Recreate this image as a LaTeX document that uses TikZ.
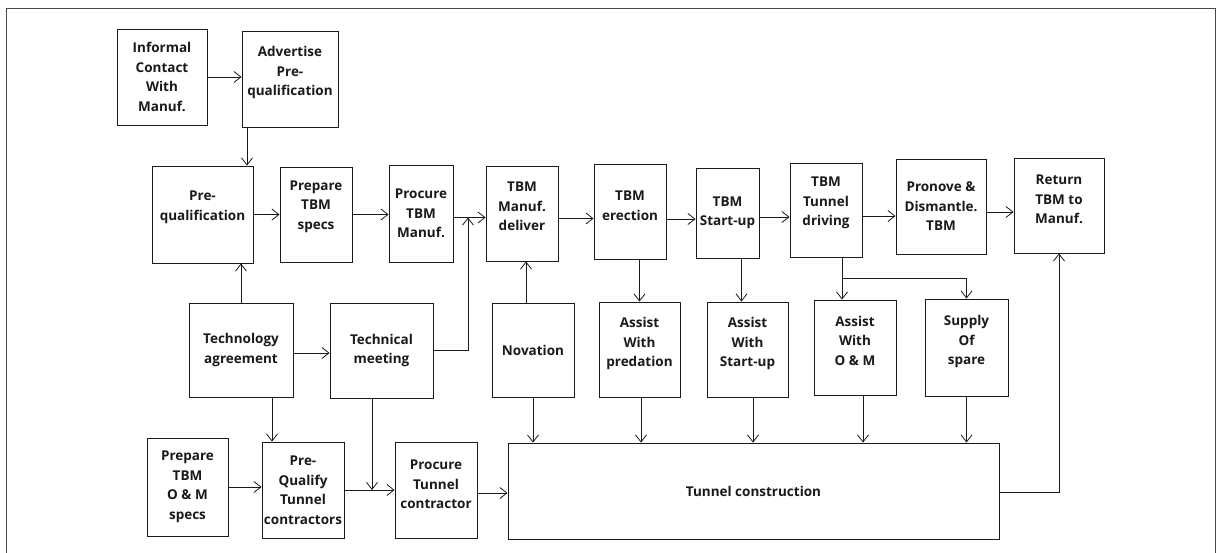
\documentclass[tikz,border=0pt]{standalone}
\usepackage{fontspec}
\setmainfont{Open Sans}
\usepackage{xcolor}
\usetikzlibrary{positioning,arrows.meta,calc}
\definecolor{tbmink}{HTML}{1A1A1A}
\tikzset{
  blk/.style  ={draw=tbmink, line width=0.9pt, fill=white, align=center,
                inner sep=1pt, font=\fontsize{13.5}{19.5}\selectfont\bfseries,
                text=tbmink},
  arr/.style  ={-{Straight Barb[length=7pt,width=11pt]}, draw=tbmink,
                line width=0.8pt},
  frame/.style={draw=tbmink!80, line width=1pt},
}
% box from its centre and its size (in picture units)
\newcommand{\blk}[6]{%
  \node[blk, minimum width=#4pt, minimum height=#5pt] (#1) at (#2,#3) {#6};%
}

\begin{document}
\begin{tikzpicture}[x=1pt, y=-1pt]
  \useasboundingbox (0,0) rectangle (1222,553);
  \draw[frame] (6,553) -- (6,9) -- (1215,9) -- (1215,553);

  % ---- upper chain --------------------------------------------------------
  \blk{inf}{162}{77}{90}{96}{Informal\\Contact\\With\\Manuf.}
  \blk{adv}{290}{79}{96}{96}{Advertise\\Pre-\\qualification\\[-4pt]}
  \blk{preq}{202.5}{214.5}{101}{97}{Pre-\\qualification\\[-2pt]}
  \blk{spec}{316}{214.5}{72}{95}{Prepare\\TBM\\specs\\[0pt]}
  \blk{proc}{421}{213.5}{64}{97}{Procure\\TBM\\Manuf.}
  \blk{deliv}{522}{213.5}{72}{95}{TBM\\Manuf.\\deliver\\[-5pt]}
  \blk{erect}{630}{211.5}{72}{95}{TBM\\erection\\[-8pt]}
  \blk{start}{727.5}{213}{63}{90}{TBM\\Start-up}
  \blk{drive}{826}{210}{72}{94}{TBM\\Tunnel\\driving\\[-2pt]}
  \blk{disman}{941}{206.5}{90}{95}{Pronove \&\\Dismantle.\\TBM}
  \blk{ret}{1059}{205.5}{90}{95}{Return\\TBM to\\Manuf.\\[-7pt]}

  % ---- middle row ---------------------------------------------------------
  \blk{tech}{241}{350}{104}{94}{Technology\\agreement}
  \blk{meet}{381.5}{350.5}{103}{95}{Technical\\meeting}
  \blk{nov}{533}{350}{82}{94}{Novation}
  \blk{apred}{639.5}{349.5}{81}{95}{Assist\\With\\predation\\[-5pt]}
  \blk{astart}{747.5}{349.5}{81}{95}{Assist\\With\\Start-up\\[-5pt]}
  \blk{aom}{855}{347.5}{82}{95}{Assist\\With\\O \& M\\[-6pt]}
  \blk{spare}{966.5}{347.5}{83}{97}{Supply\\Of\\spare\\[-5pt]}

  % ---- lower row ----------------------------------------------------------
  \blk{omspec}{187.5}{487}{81}{98}{Prepare\\TBM\\O \& M\\specs}
  \blk{pqt}{303}{490}{82}{96}{Pre-\\Qualify\\Tunnel\\contractors}
  \blk{ptc}{436}{490}{82}{96}{Procure\\Tunnel\\contractor\\[-8pt]}
  \blk{tc}{753.5}{491}{491}{96}{Tunnel construction}

  % ---- arrows: upper chain ------------------------------------------------
  \draw[arr] (inf.east) -- (inf.east -| adv.west);
  \draw[arr] ([xshift=-43pt]adv.south) -- ([xshift=-43pt]adv.south |- preq.north);
  \draw[arr] (preq.east) -- (preq.east -| spec.west);
  \draw[arr] (spec.east) -- (spec.east -| proc.west);
  \draw[arr] ([yshift=-4pt]proc.east) -- ([yshift=-4pt]proc.east -| deliv.west);
  \draw[arr] ([yshift=-5pt]deliv.east) -- ([yshift=-5pt]deliv.east -| erect.west);
  \draw[arr] ([yshift=-7.5pt]erect.east) -- ([yshift=-7.5pt]erect.east -| start.west);
  \draw[arr] ([yshift=-4pt]start.east) -- ([yshift=-4pt]start.east -| drive.west);
  \draw[arr] ([yshift=-6pt]drive.east) -- ([yshift=-6pt]drive.east -| disman.west);
  \draw[arr] ([yshift=-5.5pt]disman.east) -- ([yshift=-5.5pt]disman.east -| ret.west);

  % ---- arrows: into the upper chain ---------------------------------------
  \coordinate (jprc) at (468,217.5);
  \draw[arr] (meet.east) -| (jprc);
  \draw[arr] (tech.north) -- (tech.north |- preq.south);
  \draw[arr] ([xshift=-7pt]nov.north) -- ([xshift=-7pt]nov.north |- deliv.south);
  \draw[arr] ([yshift=-1pt]tc.east) -| (ret.south);

  % ---- arrows: down to the assist boxes -----------------------------------
  \draw[arr] (apred.north |- erect.south) -- (apred.north);
  \draw[arr] ([xshift=-6pt]astart.north |- start.south) -- ([xshift=-6pt]astart.north);
  \coordinate (jdrv) at ([xshift=16pt,yshift=-21pt]drive.south);
  \draw[arr] ([xshift=16pt]drive.south) -- (jdrv |- aom.north);
  \draw[arr] (jdrv) -| (spare.north);

  % ---- arrows: lower row --------------------------------------------------
  \draw[arr] ([yshift=-3pt]tech.east) -- ([yshift=-3pt]tech.east -| meet.west);
  \draw[arr] ([xshift=31pt]tech.south) -- ([xshift=31pt]tech.south |- pqt.north);
  \draw[arr] (omspec.east) -- (omspec.east -| pqt.west);
  \draw[arr] (pqt.east) -- (pqt.east -| ptc.west);
  \draw[arr] ([xshift=-9.5pt]meet.south) -- ([xshift=-9.5pt]meet.south |- pqt.east);
  \draw[arr] ([yshift=-3pt]ptc.east) -- ([yshift=-3pt]ptc.east -| tc.west);

  % ---- arrows: into tunnel construction -----------------------------------
  \draw[arr] (nov.south) -- (nov.south |- tc.north);
  \draw[arr] ([xshift=1.5pt]apred.south) -- ([xshift=1.5pt]apred.south |- tc.north);
  \draw[arr] ([xshift=5.5pt]astart.south) -- ([xshift=5.5pt]astart.south |- tc.north);
  \draw[arr] ([xshift=8pt]aom.south) -- ([xshift=8pt]aom.south |- tc.north);
  \draw[arr] (spare.south) -- (spare.south |- tc.north);
\end{tikzpicture}
\end{document}
